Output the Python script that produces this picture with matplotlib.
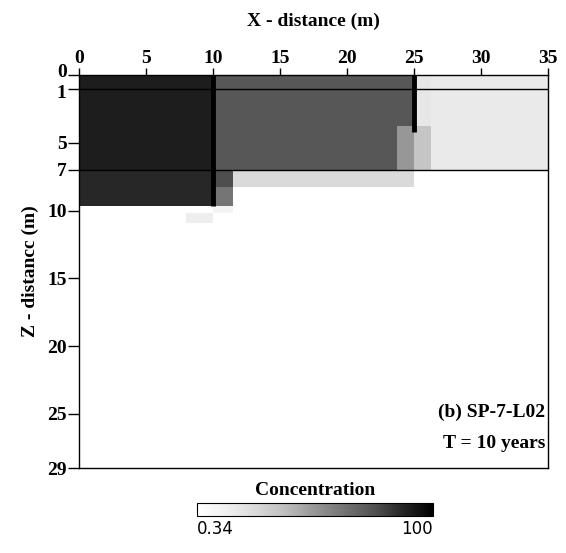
import numpy as np
import matplotlib.pyplot as plt
import matplotlib.transforms as mtransforms

# grid of concentration blocks
x_edges = [0, 8, 10, 11.5, 23.7, 25, 26.3, 35]
z_edges = [0, 3.8, 7, 8.3, 9.7, 10.2, 10.9, 29]
conc = np.array([
    [90, 90, 73, 73, 73, 18, 16],
    [90, 90, 73, 73, 50, 34, 16],
    [87, 87, 76, 25, 25, 0.34, 0.34],
    [87, 87, 62, 0.34, 0.34, 0.34, 0.34],
    [0.34, 0.34, 10, 0.34, 0.34, 0.34, 0.34],
    [0.34, 14, 0.34, 0.34, 0.34, 0.34, 0.34],
    [0.34, 0.34, 0.34, 0.34, 0.34, 0.34, 0.34],
])

layer_depths = [1, 7]
pile_x = [10, 25]
pile_bottom = [9.7, 4.2]

x_ticks = [0, 5, 10, 15, 20, 25, 30, 35]
z_ticks = [0, 1, 5, 7, 10, 15, 20, 25, 29]
c_min, c_max = 0.34, 100

plt.rcParams['font.family'] = 'Liberation Serif'
plt.rcParams['font.weight'] = 'bold'

fig = plt.figure(figsize=(5.66, 5.53), dpi=100)
ax = fig.add_axes([0.1396, 0.1537, 0.8286, 0.7107])

mesh = ax.pcolormesh(x_edges, z_edges, conc, cmap='Greys', vmin=c_min, vmax=c_max)
ax.hlines(layer_depths, 0, 35, color='black', lw=1)
ax.vlines(pile_x, 0, pile_bottom, color='black', lw=3.5)

ax.set_xlim(0, 35)
ax.set_ylim(29, 0)
ax.xaxis.tick_top()
ax.xaxis.set_label_position('top')
ax.set_xticks(x_ticks)
ax.set_yticks(z_ticks)
ax.tick_params(axis='x', length=5, width=1, labelsize=14, pad=1)
ax.tick_params(axis='y', length=8, width=1, labelsize=14, pad=1)
# nudge the "0" and "1" labels apart a little, as in the original
ylabs = ax.get_yticklabels()
ylabs[0].set_transform(ylabs[0].get_transform() +
                       mtransforms.ScaledTranslation(0, 3 / 72, fig.dpi_scale_trans))
ylabs[1].set_transform(ylabs[1].get_transform() +
                       mtransforms.ScaledTranslation(0, -2 / 72, fig.dpi_scale_trans))
ax.set_xlabel('X - distance (m)', fontsize=14, fontweight='bold', labelpad=17)
ax.set_ylabel('Z - distancc (m)', fontsize=14, fontweight='bold', labelpad=6)
for s in ax.spines.values():
    s.set_linewidth(1)

ax.text(34.8, 24.9, '(b) SP-7-L02', ha='right', va='center', fontsize=14, fontweight='bold')
ax.text(34.8, 27.2, 'T = 10 years', ha='right', va='center', fontsize=14, fontweight='bold')

cax = fig.add_axes([0.348, 0.0669, 0.417, 0.0235])
cb = fig.colorbar(mesh, cax=cax, orientation='horizontal')
cb.set_ticks([c_min, c_max])
cb.set_ticklabels(['0.34', '100'])
cax.tick_params(length=0, labelsize=12, pad=3)
for lab, ha in zip(cax.get_xticklabels(), ['left', 'right']):
    lab.set_ha(ha)
    lab.set_fontfamily('DejaVu Sans')
    lab.set_fontweight('normal')
cax.set_title('Concentration', fontsize=14, fontweight='bold', pad=6)

fig.savefig('out.png', dpi=100)
